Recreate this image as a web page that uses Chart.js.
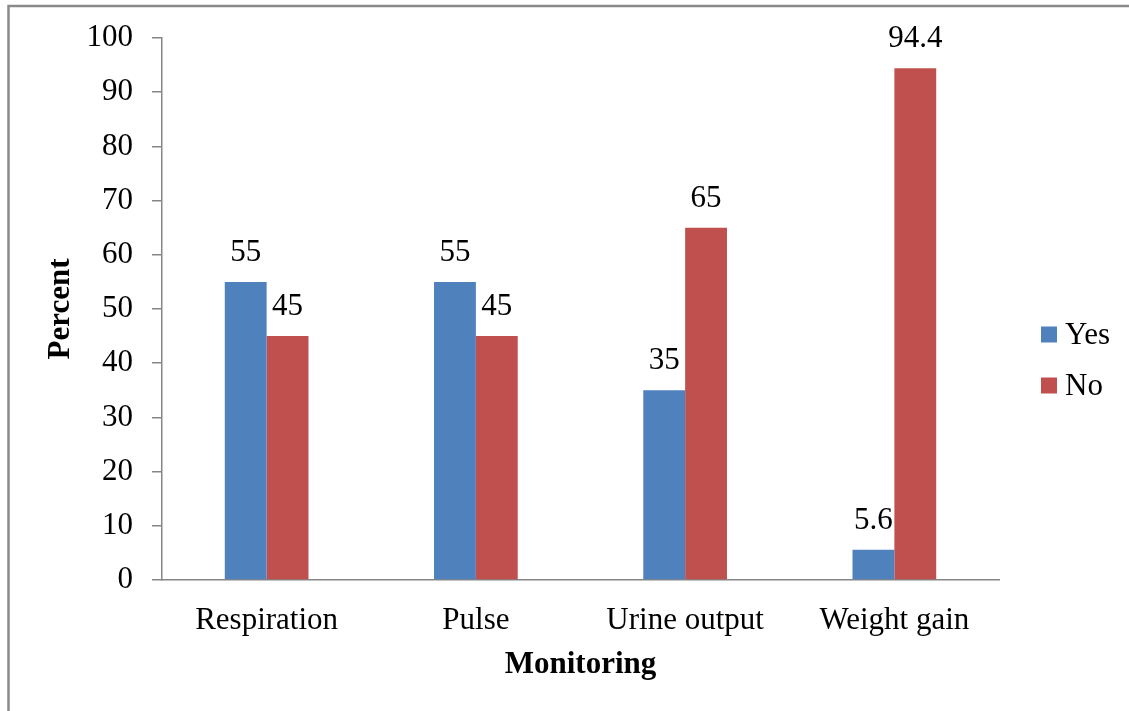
<!DOCTYPE html>
<html>
<head>
<meta charset="utf-8">
<title>Monitoring</title>
<script src="https://cdn.jsdelivr.net/npm/chart.js@4.4.1/dist/chart.umd.min.js"></script>
<style>
  html, body { margin: 0; padding: 0; background: #fff; }
  #wrap { width: 1129px; height: 711px; position: relative; }
  canvas { display: block; }
</style>
</head>
<body>
<div id="wrap"><canvas id="chart" width="1129" height="711"></canvas></div>
<script>
// Monitoring categories and the share (in percent) answering Yes / No
const categories = ['Respiration', 'Pulse', 'Urine output', 'Weight gain'];
const yesValues = [55, 55, 35, 5.6];
const noValues = [45, 45, 65, 94.4];
const seriesNames = ['Yes', 'No'];
const yTicks = [0, 10, 20, 30, 40, 50, 60, 70, 80, 90, 100];

const FONT = '"Liberation Serif", "Times New Roman", serif';
const AXIS_GREY = '#868686';
const BLUE = '#4F81BD';
const RED = '#C0504D';

// White background plus the grey frame along the top and left edges
const framePlugin = {
  id: 'frame',
  beforeDraw(chart) {
    const ctx = chart.ctx;
    ctx.save();
    ctx.fillStyle = '#ffffff';
    ctx.fillRect(0, 0, chart.width, chart.height);
    ctx.strokeStyle = '#8a8a8a';
    ctx.lineWidth = 2.5;
    ctx.beginPath();
    ctx.moveTo(8.5, chart.height);
    ctx.lineTo(8.5, 6);
    ctx.lineTo(chart.width, 6);
    ctx.stroke();
    ctx.restore();
  }
};

// Value labels above each bar
const valueLabelPlugin = {
  id: 'valueLabels',
  afterDatasetsDraw(chart) {
    const ctx = chart.ctx;
    ctx.save();
    ctx.font = '31px ' + FONT;
    ctx.fillStyle = '#000';
    ctx.textAlign = 'center';
    ctx.textBaseline = 'middle';
    chart.data.datasets.forEach((ds, i) => {
      const meta = chart.getDatasetMeta(i);
      meta.data.forEach((bar, j) => {
        ctx.fillText(String(ds.data[j]), bar.x, bar.y - 29);
      });
    });
    ctx.restore();
  }
};

// Legend on the right: colour square followed by the series name
const sideLegendPlugin = {
  id: 'sideLegend',
  afterDraw(chart) {
    const ctx = chart.ctx;
    const x = chart.chartArea.right + 42;
    const rowGap = 51;
    const n = chart.data.datasets.length;
    const firstY = 360 - rowGap * (n - 1) / 2;
    ctx.save();
    ctx.font = '31px ' + FONT;
    ctx.textAlign = 'left';
    ctx.textBaseline = 'middle';
    chart.data.datasets.forEach((ds, i) => {
      const cy = firstY + i * rowGap;
      ctx.fillStyle = ds.backgroundColor;
      ctx.fillRect(x, cy - 8, 16, 16);
      ctx.fillStyle = '#000';
      ctx.fillText(ds.label, x + 24, cy + 1);
    });
    ctx.restore();
  }
};

new Chart(document.getElementById('chart'), {
  type: 'bar',
  data: {
    labels: categories,
    datasets: [
      { label: seriesNames[0], data: yesValues, backgroundColor: BLUE,
        categoryPercentage: 0.4, barPercentage: 1.0 },
      { label: seriesNames[1], data: noValues, backgroundColor: RED,
        categoryPercentage: 0.4, barPercentage: 1.0 }
    ]
  },
  options: {
    responsive: false,
    animation: false,
    devicePixelRatio: 1,
    layout: { padding: { top: 38, right: 130, bottom: 0, left: 0 } },
    plugins: {
      legend: { display: false },
      tooltip: { enabled: false }
    },
    scales: {
      x: {
        grid: { display: false },
        border: { display: true, color: AXIS_GREY, width: 1.5 },
        ticks: {
          color: '#000',
          font: { family: FONT, size: 31, lineHeight: 1.2 },
          padding: 14,
          maxRotation: 0
        },
        title: {
          display: true,
          text: 'Monitoring',
          color: '#000',
          font: { family: FONT, size: 31, weight: 'bold', lineHeight: 1.2 },
          padding: { top: 0, bottom: 27 }
        },
        afterFit(scale) { scale.height = 131; }
      },
      y: {
        min: 0,
        max: 100,
        afterBuildTicks(scale) { scale.ticks = yTicks.map(v => ({ value: v })); },
        grid: {
          display: true,
          drawOnChartArea: false,
          drawTicks: true,
          tickLength: 10,
          color: AXIS_GREY,
          lineWidth: 1.5
        },
        border: { display: true, color: AXIS_GREY, width: 1.5 },
        ticks: {
          color: '#000',
          font: { family: FONT, size: 31, lineHeight: 1.2 },
          padding: 19
        },
        title: {
          display: true,
          text: 'Percent',
          color: '#000',
          font: { family: FONT, size: 31, weight: 'bold', lineHeight: 1.2 },
          padding: { top: 42, bottom: 0 }
        },
        afterFit(scale) { scale.width = 162; }
      }
    }
  },
  plugins: [framePlugin, valueLabelPlugin, sideLegendPlugin]
});
</script>
</body>
</html>
